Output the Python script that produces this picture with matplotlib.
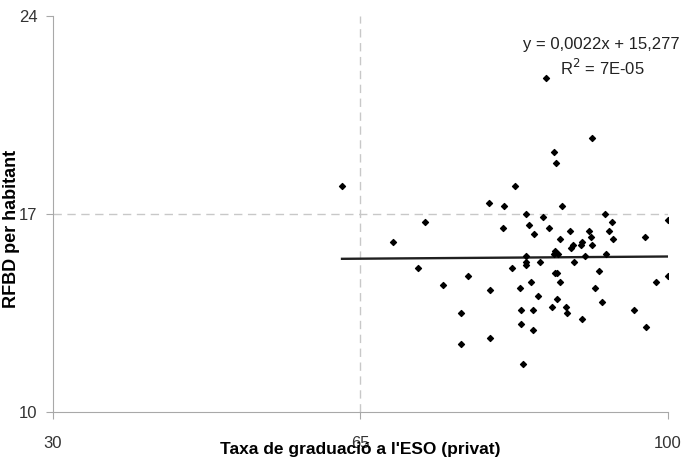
import matplotlib
matplotlib.use("Agg")
import matplotlib.pyplot as plt
import numpy as np

# graduation rate (private) vs RFBD per inhabitant
grad_rate = [
    62.9, 86.1, 91.4, 87.0, 87.3, 82.6, 79.6, 81.3, 87.9, 72.3,
    83.8, 85.8, 92.8, 93.6, 100.0, 81.2, 84.2, 84.8, 86.5, 88.8,
    91.0, 91.2, 93.3, 93.7, 97.4, 68.7, 87.7, 89.2, 89.0, 90.2,
    90.1, 91.4, 87.2, 87.0, 87.5, 83.9, 90.6, 92.9, 71.5, 82.2,
    83.9, 83.9, 85.4, 89.3, 77.2, 87.1, 87.4, 92.1, 100.0, 74.4,
    84.4, 87.7, 98.6, 79.7, 83.2, 91.7, 85.2, 87.4, 92.5, 76.4,
    83.3, 84.6, 86.8, 88.4, 88.5, 90.2, 96.1, 83.3, 84.6, 97.5,
    76.4, 79.7, 83.5,
]
rfbd = [
    18.0, 21.8, 19.7, 19.2, 18.8, 18.0, 17.4, 17.3, 17.3, 16.7,
    17.0, 16.9, 17.0, 16.7, 16.8, 16.5, 16.6, 16.3, 16.5, 16.4,
    16.4, 16.2, 16.4, 16.1, 16.2, 16.0, 16.1, 15.9, 15.8, 16.0,
    15.9, 15.9, 15.7, 15.6, 15.6, 15.5, 15.5, 15.6, 15.1, 15.1,
    15.3, 15.2, 15.3, 15.3, 14.8, 14.9, 14.9, 15.0, 14.8, 14.5,
    14.6, 14.6, 14.6, 14.3, 14.4, 14.4, 14.1, 14.0, 13.9, 13.5,
    13.6, 13.6, 13.7, 13.7, 13.5, 13.3, 13.6, 13.1, 12.9, 13.0,
    12.4, 12.6, 11.7,
]
trend_slope = 0.0022
trend_intercept = 15.277
x_ticks = [30, 65, 100]
y_ticks = [10, 17, 24]

plt.rcParams["font.family"] = ["Liberation Sans", "DejaVu Sans"]

fig = plt.figure(figsize=(6.84, 4.65), dpi=100)
ax = fig.add_axes([0.0775, 0.114, 0.899, 0.8516])

axis_grey = "#a8a8a8"
ax.axvline(65, color="#c8c8c8", linestyle=(0, (6, 4)), linewidth=1, zorder=1)
ax.axhline(17, color="#c8c8c8", linestyle=(0, (6, 4)), linewidth=1, zorder=1)

ax.scatter(grad_rate, rfbd, marker="D", s=9, color="black", zorder=3)

# linear trend line over the range of the data
xs = np.array([min(grad_rate), max(grad_rate)])
ax.plot(xs, trend_slope * xs + trend_intercept, color="#202020", linewidth=1.7, zorder=2)

ax.set_xlim(30, 100)
ax.set_ylim(10, 24)
ax.set_xticks(x_ticks)
ax.set_yticks(y_ticks)
ax.tick_params(axis="both", colors=axis_grey, labelcolor="#333333", labelsize=12, length=5)
ax.tick_params(axis="x", pad=12)
ax.tick_params(axis="y", pad=6)
for side in ("top", "right"):
    ax.spines[side].set_visible(False)
for side in ("left", "bottom"):
    ax.spines[side].set_color(axis_grey)

ax.set_xlabel("Taxa de graduació a l'ESO (privat)", fontsize=12.5, fontweight="bold")
ax.xaxis.set_label_coords(0.5, -0.077)
ax.set_ylabel("RFBD per habitant", fontsize=13, fontweight="bold")
ax.yaxis.set_label_coords(-0.053, 0.462)

ax.text(0.891, 0.927, "y = 0,0022x + 15,277", transform=ax.transAxes,
        fontsize=12, ha="center", va="center", color="#222222")
ax.text(0.893, 0.868, "R$^2$ = 7E-05", transform=ax.transAxes,
        fontsize=12, ha="center", va="center", color="#222222")

fig.savefig("out.png", dpi=100)
